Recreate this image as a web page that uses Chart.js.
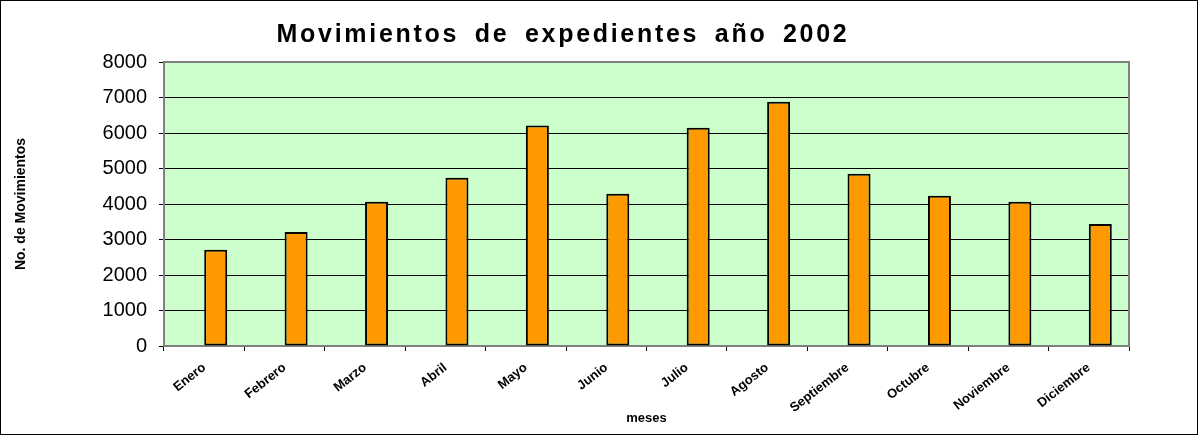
<!DOCTYPE html>
<html>
<head>
<meta charset="utf-8">
<script src="https://cdn.jsdelivr.net/npm/chart.js@4"></script>
<style>
  html, body { margin: 0; padding: 0; background: #fff; }
  #wrap { width: 1198px; height: 435px; border: 1px solid #000; box-sizing: border-box; position: relative; }
  #wrap canvas { display: block; }
</style>
</head>
<body>
<div id="wrap"><canvas id="chart" width="1196" height="433"></canvas></div>
<script>
const titulo = "Movimientos de expedientes año 2002";
const meses = ["Enero", "Febrero", "Marzo", "Abril", "Mayo", "Junio", "Julio", "Agosto", "Septiembre", "Octubre", "Noviembre", "Diciembre"];
const movimientos = [2710, 3210, 4060, 4740, 6210, 4290, 6150, 6880, 4850, 4230, 4060, 3440];
const vacia = meses.map(() => null); // excel leaves an empty slot left of each bar
const yMin = 0, yMax = 8000, yPaso = 1000;

const FONT = "'Liberation Sans', Arial, sans-serif";

// plot background + grey frame, and the spaced-out title
const marco = {
  id: "marco",
  beforeDraw(chart) {
    const { ctx, chartArea: a } = chart;
    ctx.save();
    ctx.fillStyle = "#CCFFCC";
    ctx.fillRect(a.left, a.top, a.right - a.left, a.bottom - a.top);
    ctx.restore();
  },
  afterDraw(chart) {
    const { ctx, chartArea: a } = chart;
    ctx.save();
    ctx.strokeStyle = "#808080";
    ctx.lineWidth = 2;
    ctx.beginPath();
    ctx.moveTo(a.left, a.top);
    ctx.lineTo(a.right, a.top);
    ctx.lineTo(a.right, a.bottom);
    ctx.stroke();

    ctx.fillStyle = "#000";
    ctx.font = "bold 25px " + FONT;
    ctx.letterSpacing = "2.7px";
    ctx.wordSpacing = "6px";
    ctx.textAlign = "center";
    ctx.textBaseline = "alphabetic";
    ctx.fillText(titulo, 562, 41);
    ctx.restore();
  }
};

new Chart(document.getElementById("chart"), {
  type: "bar",
  data: {
    labels: meses,
    datasets: [
      { label: "", data: vacia },
      {
        label: "Movimientos",
        data: movimientos,
        backgroundColor: "#FF9900",
        borderColor: "#000",
        borderWidth: 2,
        borderSkipped: false
      }
    ]
  },
  options: {
    responsive: false,
    animation: false,
    events: [],
    layout: { padding: { left: 12, right: 68, top: 61, bottom: 8 } },
    datasets: { bar: { categoryPercentage: 0.572, barPercentage: 1 } },
    plugins: { legend: { display: false }, title: { display: false }, tooltip: { enabled: false } },
    scales: {
      x: {
        grid: { drawOnChartArea: false, drawTicks: true, tickLength: 5, color: "#000" },
        border: { display: true, color: "#808080", width: 2 },
        ticks: {
          color: "#000",
          font: { family: FONT, size: 13, weight: "bold" },
          minRotation: 38, maxRotation: 38,
          padding: 9,
          autoSkip: false
        },
        title: { display: true, text: "meses", color: "#000", font: { family: FONT, size: 13, weight: "bold" }, padding: { top: 0, bottom: 0 } },
        afterFit(s) { s.height = 80; }
      },
      y: {
        min: yMin, max: yMax,
        grid: { color: "#000", lineWidth: 1, tickLength: 5, tickColor: "#000" },
        border: { display: true, color: "#808080", width: 2 },
        ticks: { stepSize: yPaso, color: "#000", font: { family: FONT, size: 20 }, padding: 12, callback: v => String(v) },
        title: { display: true, text: "No. de Movimientos", color: "#000", font: { family: FONT, size: 14, weight: "bold" }, padding: { top: 0, bottom: 0 } },
        afterFit(s) { s.width = 151; }
      }
    }
  },
  plugins: [marco]
});
</script>
</body>
</html>
